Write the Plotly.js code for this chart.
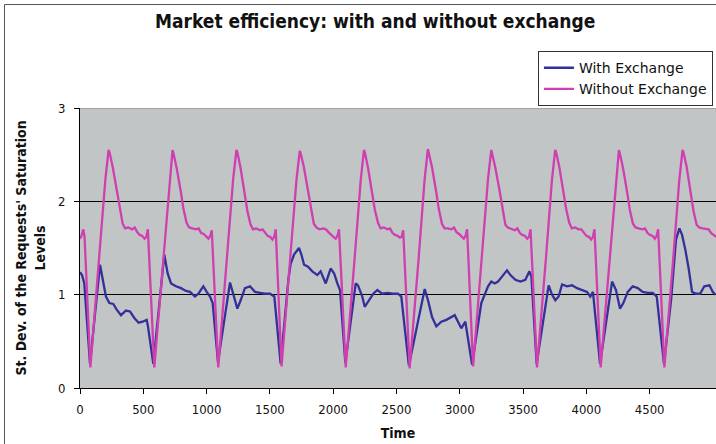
<!DOCTYPE html>
<html>
<head>
<meta charset="utf-8">
<script src="https://cdn.plot.ly/plotly-3.0.1.min.js"></script>
<style>html,body{margin:0;padding:0;background:#fff;}#chart{width:716px;height:444px;}</style>
</head>
<body>
<div id="chart"></div>
<script>
// ---- data ----
const chartTitle = "Market efficiency: with and without exchange";
const xTitle = "Time";
const yTitle = "St. Dev. of the Requests' Saturation<br>Levels";
const seriesNames = ["With Exchange", "Without Exchange"];
const xTickVals = [0, 500, 1000, 1500, 2000, 2500, 3000, 3500, 4000, 4500];
const yTickVals = [0, 1, 2, 3];

const withTime = [
  0, 16, 34, 79, 158, 179, 205, 232, 263, 290, 324, 363, 395, 429, 463, 495, 527, 537,
  579, 666, 692, 719, 758, 798, 837, 869, 908, 935, 974, 1001, 1027, 1048,
  1090, 1185, 1217, 1243, 1269, 1303, 1343, 1382, 1422, 1461, 1501, 1535,
  1585, 1646, 1664, 1691, 1730, 1749, 1770, 1801, 1835, 1875, 1901, 1941, 1980, 2007, 2033, 2054,
  2096, 2178, 2196, 2230, 2249, 2283, 2317, 2349, 2388, 2428, 2472, 2512, 2538,
  2598, 2723, 2749, 2781, 2815, 2854, 2894, 2933, 2960, 2986, 3012, 3044,
  3097, 3170, 3197, 3223, 3249, 3276, 3302, 3334, 3373, 3400, 3439, 3479, 3518, 3550, 3566,
  3607, 3702, 3729, 3755, 3781, 3808, 3847, 3887, 3926, 3966, 4005, 4031, 4052,
  4108, 4203, 4234, 4266, 4292, 4327, 4366, 4406, 4445, 4485, 4524, 4556,
  4613, 4669, 4708, 4735, 4756, 4782, 4808, 4835, 4866, 4898, 4932, 4972, 4998, 5019
];
const withValues = [
  1.24, 1.21, 1.12, 0.26, 1.32, 1.16, 0.98, 0.91, 0.90, 0.84, 0.78, 0.83, 0.82, 0.75, 0.70, 0.71, 0.73, 0.66,
  0.26, 1.43, 1.23, 1.12, 1.09, 1.07, 1.04, 1.03, 0.98, 1.01, 1.09, 1.03, 0.98, 0.91,
  0.28, 1.13, 0.98, 0.85, 0.94, 1.07, 1.09, 1.03, 1.02, 1.01, 1.01, 0.98,
  0.26, 1.16, 1.33, 1.43, 1.50, 1.43, 1.32, 1.30, 1.25, 1.21, 1.25, 1.12, 1.28, 1.23, 1.12, 1.05,
  0.27, 1.12, 1.10, 0.98, 0.87, 0.94, 1.01, 1.05, 1.01, 1.02, 1.01, 1.01, 0.98,
  0.24, 1.06, 0.94, 0.76, 0.66, 0.71, 0.73, 0.76, 0.78, 0.71, 0.64, 0.71,
  0.25, 0.91, 1.01, 1.09, 1.14, 1.12, 1.14, 1.19, 1.26, 1.21, 1.16, 1.14, 1.16, 1.25, 1.19,
  0.26, 1.10, 1.00, 0.94, 0.98, 1.11, 1.09, 1.10, 1.07, 1.05, 1.03, 0.98, 1.03,
  0.26, 1.14, 1.05, 0.85, 0.91, 1.03, 1.09, 1.07, 1.03, 1.02, 1.02, 0.98,
  0.26, 0.94, 1.59, 1.71, 1.64, 1.48, 1.28, 1.03, 1.01, 1.01, 1.09, 1.10, 1.03, 1.00
];

const withoutTime = [
  0, 12, 26, 36,
  82, 152, 200, 226, 234, 258, 292, 312, 337, 357, 382, 412, 432, 452, 472, 492, 510, 524, 536,
  587, 657, 705, 731, 739, 763, 797, 817, 842, 862, 887, 917, 937, 957, 977, 997, 1015, 1029, 1041,
  1092, 1162, 1210, 1236, 1244, 1268, 1302, 1322, 1347, 1367, 1392, 1422, 1442, 1462, 1482, 1502, 1520, 1534, 1546,
  1592, 1662, 1710, 1736, 1744, 1768, 1802, 1822, 1847, 1867, 1892, 1922, 1942, 1962, 1982, 2002, 2020, 2034, 2046,
  2099, 2169, 2217, 2243, 2251, 2275, 2309, 2329, 2354, 2374, 2399, 2429, 2449, 2469, 2489, 2509, 2527, 2541, 2553,
  2604, 2674, 2722, 2748, 2756, 2780, 2814, 2834, 2859, 2879, 2904, 2934, 2954, 2974, 2994, 3014, 3032, 3046, 3058,
  3105, 3175, 3223, 3249, 3257, 3281, 3315, 3335, 3360, 3380, 3405, 3435, 3455, 3475, 3495, 3515, 3533, 3547, 3559,
  3610, 3680, 3728, 3754, 3762, 3786, 3820, 3840, 3865, 3885, 3910, 3940, 3960, 3980, 4000, 4020, 4038, 4052, 4064,
  4113, 4183, 4231, 4257, 4265, 4289, 4323, 4343, 4368, 4388, 4413, 4443, 4463, 4483, 4503, 4523, 4541, 4555, 4567,
  4616, 4686, 4734, 4760, 4768, 4792, 4826, 4846, 4871, 4891, 4916, 4946, 4966, 4986, 5006, 5026
];
const withoutValues = [
  1.60, 1.63, 1.70, 1.62,
  0.22, 1.38, 2.23, 2.55, 2.52, 2.37, 2.12, 1.93, 1.76, 1.71, 1.72, 1.70, 1.72, 1.67, 1.64, 1.63, 1.60, 1.62, 1.70,
  0.22, 1.37, 2.22, 2.55, 2.51, 2.36, 2.10, 1.92, 1.77, 1.72, 1.71, 1.70, 1.71, 1.66, 1.65, 1.62, 1.60, 1.63, 1.69,
  0.22, 1.38, 2.24, 2.55, 2.52, 2.36, 2.05, 1.90, 1.75, 1.70, 1.71, 1.69, 1.70, 1.66, 1.63, 1.62, 1.59, 1.62, 1.70,
  0.23, 1.39, 2.23, 2.54, 2.51, 2.37, 2.11, 1.92, 1.76, 1.72, 1.70, 1.71, 1.70, 1.67, 1.64, 1.62, 1.60, 1.63, 1.70,
  0.22, 1.38, 2.22, 2.55, 2.52, 2.36, 2.09, 1.91, 1.77, 1.71, 1.72, 1.70, 1.71, 1.66, 1.64, 1.63, 1.61, 1.62, 1.69,
  0.21, 1.37, 2.23, 2.56, 2.52, 2.37, 2.10, 1.92, 1.76, 1.71, 1.71, 1.70, 1.72, 1.67, 1.65, 1.62, 1.60, 1.63, 1.70,
  0.23, 1.38, 2.24, 2.55, 2.51, 2.36, 2.11, 1.93, 1.75, 1.72, 1.71, 1.69, 1.71, 1.66, 1.64, 1.63, 1.60, 1.62, 1.70,
  0.22, 1.38, 2.23, 2.55, 2.52, 2.37, 2.10, 1.92, 1.77, 1.71, 1.72, 1.70, 1.70, 1.67, 1.63, 1.62, 1.59, 1.62, 1.70,
  0.22, 1.37, 2.22, 2.55, 2.51, 2.36, 2.09, 1.91, 1.76, 1.72, 1.71, 1.70, 1.71, 1.66, 1.64, 1.63, 1.60, 1.63, 1.70,
  0.22, 1.38, 2.23, 2.55, 2.52, 2.37, 2.08, 1.90, 1.75, 1.72, 1.71, 1.70, 1.70, 1.66, 1.64, 1.62
];

// ---- styling ----
const FONT = "'DejaVu Sans Condensed', 'DejaVu Sans', sans-serif";
const blue = "#33309a";
const magenta = "#d03fb0";

const traces = [
  {x: withTime, y: withValues, name: seriesNames[0], type: "scatter", mode: "lines",
   line: {color: blue, width: 2.3}},
  {x: withoutTime, y: withoutValues, name: seriesNames[1], type: "scatter", mode: "lines",
   line: {color: magenta, width: 2.3}}
];

const layout = {
  width: 716, height: 444,
  margin: {l: 80, r: 0, t: 108, b: 56, pad: 0},
  paper_bgcolor: "#ffffff",
  plot_bgcolor: "#c2c5c6",
  font: {family: FONT, size: 13, color: "#111"},
  title: {text: "<b>" + chartTitle + "</b>", font: {family: FONT, size: 19, color: "#111"},
          x: 0.524, xref: "container", xanchor: "center", y: 0.952, yref: "container", yanchor: "middle"},
  xaxis: {range: [0, 5024], tickvals: xTickVals, ticks: "outside", ticklen: 5, tickcolor: "#000",
          showline: true, linecolor: "#000", linewidth: 1, showgrid: false, zeroline: false,
          ticklabelstandoff: 4,
          tickfont: {family: FONT, size: 13, color: "#111"},
          title: {text: "<b>" + xTitle + "</b>", font: {family: FONT, size: 14, color: "#111"}, standoff: 12}},
  yaxis: {range: [0, 3], tickvals: yTickVals, ticks: "outside", ticklen: 5, tickcolor: "#000",
          showline: true, linecolor: "#000", linewidth: 1, showgrid: true, gridcolor: "#000", gridwidth: 1,
          zeroline: false, ticklabelstandoff: 6, tickfont: {family: FONT, size: 13, color: "#111"},
          title: {text: "<b>" + yTitle + "</b>", font: {family: FONT, size: 14, color: "#111"}, standoff: 9}},
  showlegend: true,
  legend: {x: 0.72, y: 1.203, xanchor: "left", yanchor: "top", bgcolor: "#ffffff",
           bordercolor: "#333", borderwidth: 1, font: {family: "'DejaVu Sans', sans-serif", size: 14, color: "#111"},
           itemwidth: 30, tracegroupgap: 0},
  shapes: [
    {type: "line", xref: "paper", yref: "y", x0: 0, x1: 1, y0: 3, y1: 3, line: {color: "#808080", width: 1}},
    {type: "rect", xref: "paper", yref: "paper", x0: -0.1187, x1: 1.05, y0: -0.3, y1: 1.3696,
     line: {color: "#555", width: 1}, fillcolor: "rgba(0,0,0,0)", layer: "below"}
  ]
};

Plotly.newPlot("chart", traces, layout, {displayModeBar: false, staticPlot: true});
</script>
</body>
</html>
